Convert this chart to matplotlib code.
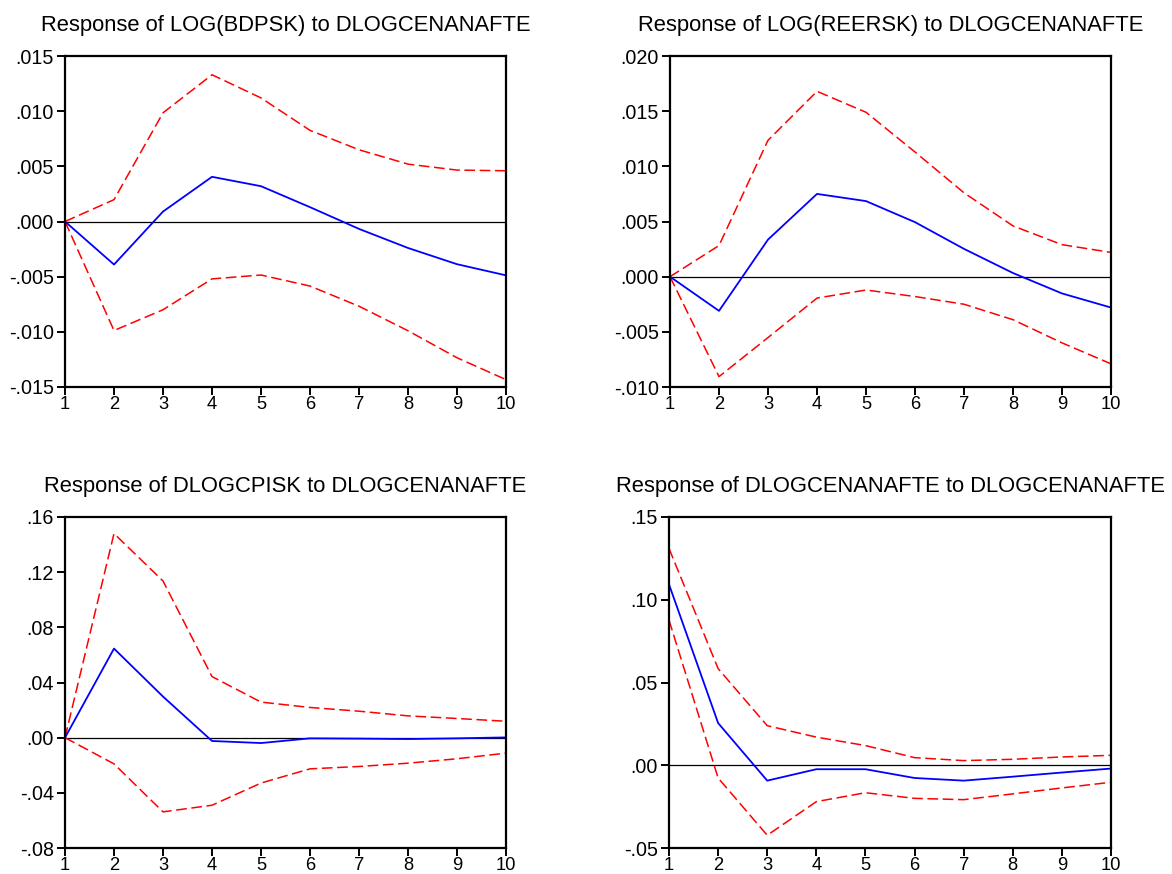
import matplotlib
matplotlib.use("Agg")
import matplotlib.pyplot as plt
from matplotlib.ticker import FixedLocator

plt.rcParams['font.family'] = ['Liberation Sans', 'DejaVu Sans']

periods = [1, 2, 3, 4, 5, 6, 7, 8, 9, 10]

titles = [
    "Response of LOG(BDPSK) to DLOGCENANAFTE",
    "Response of LOG(REERSK) to DLOGCENANAFTE",
    "Response of DLOGCPISK to DLOGCENANAFTE",
    "Response of DLOGCENANAFTE to DLOGCENANAFTE",
]

# impulse responses (blue) and +/- 2 S.E. bands (red)
bdpsk_resp = [0.0, -0.0039, 0.0009, 0.00405, 0.0032, 0.0013, -0.00067, -0.0024, -0.00387, -0.00488]
bdpsk_upper = [0.0, 0.00198, 0.00985, 0.0133, 0.0112, 0.00826, 0.0065, 0.0052, 0.00466, 0.0046]
bdpsk_lower = [0.0, -0.00988, -0.0080, -0.0052, -0.00485, -0.00585, -0.00768, -0.0099, -0.01235, -0.01433]

reersk_resp = [0.0, -0.0031, 0.00336, 0.0075, 0.00685, 0.00494, 0.00252, 0.00033, -0.00152, -0.0028]
reersk_upper = [0.0, 0.00282, 0.01236, 0.0168, 0.0149, 0.0113, 0.0076, 0.0046, 0.0029, 0.0022]
reersk_lower = [0.0, -0.00906, -0.00552, -0.00194, -0.00121, -0.0018, -0.0025, -0.0039, -0.0060, -0.0079]

cpisk_resp = [0.0, 0.0646, 0.0298, -0.0024, -0.0039, -0.0005, -0.0007, -0.001, -0.0005, 0.0002]
cpisk_upper = [0.0, 0.148, 0.1136, 0.0443, 0.0258, 0.0219, 0.0192, 0.0158, 0.0139, 0.0119]
cpisk_lower = [0.0, -0.019, -0.0538, -0.049, -0.0329, -0.0226, -0.0209, -0.0185, -0.0153, -0.0112]

nafte_resp = [0.1093, 0.0255, -0.0093, -0.0024, -0.0024, -0.0077, -0.0093, -0.0069, -0.0044, -0.002]
nafte_upper = [0.131, 0.0584, 0.0239, 0.017, 0.0119, 0.0046, 0.0028, 0.0036, 0.005, 0.006]
nafte_lower = [0.0877, -0.0077, -0.0423, -0.022, -0.0166, -0.020, -0.0208, -0.0173, -0.0137, -0.0103]

yticks_1 = [-0.015, -0.010, -0.005, 0.0, 0.005, 0.010, 0.015]
ylabels_1 = ["-.015", "-.010", "-.005", ".000", ".005", ".010", ".015"]
yticks_2 = [-0.010, -0.005, 0.0, 0.005, 0.010, 0.015, 0.020]
ylabels_2 = ["-.010", "-.005", ".000", ".005", ".010", ".015", ".020"]
yticks_3 = [-0.08, -0.04, 0.0, 0.04, 0.08, 0.12, 0.16]
ylabels_3 = ["-.08", "-.04", ".00", ".04", ".08", ".12", ".16"]
yticks_4 = [-0.05, 0.0, 0.05, 0.10, 0.15]
ylabels_4 = ["-.05", ".00", ".05", ".10", ".15"]

panels = [
    (bdpsk_resp, bdpsk_upper, bdpsk_lower, yticks_1, ylabels_1),
    (reersk_resp, reersk_upper, reersk_lower, yticks_2, ylabels_2),
    (cpisk_resp, cpisk_upper, cpisk_lower, yticks_3, ylabels_3),
    (nafte_resp, nafte_upper, nafte_lower, yticks_4, ylabels_4),
]

fig = plt.figure(figsize=(11.72, 8.74), dpi=100)
W, H = 1172.0, 874.0
# pixel boxes: left, top, right, bottom
boxes = [(65, 56, 506, 387), (670, 56, 1111, 387),
         (65, 517, 506, 848), (669, 517, 1111, 848)]

for i, (resp, up, lo, yt, yl) in enumerate(panels):
    l, t, r, b = boxes[i]
    ax = fig.add_axes([l / W, 1 - b / H, (r - l) / W, (b - t) / H])
    ax.axhline(0, color='black', lw=0.9)
    ax.plot(periods, up, color='red', lw=1.1, ls=(0, (7, 3)))
    ax.plot(periods, lo, color='red', lw=1.1, ls=(0, (7, 3)))
    ax.plot(periods, resp, color='blue', lw=1.3)
    ax.set_xlim(1, 10)
    ax.set_ylim(yt[0], yt[-1])
    ax.xaxis.set_major_locator(FixedLocator(periods))
    ax.set_xticklabels([str(p) for p in periods])
    ax.yaxis.set_major_locator(FixedLocator(yt))
    ax.set_yticklabels(yl)
    ax.tick_params(direction='out', length=5.5, width=1.4)
    ax.tick_params(axis='y', labelsize=14.2, pad=2.5)
    ax.tick_params(axis='x', labelsize=13.2, pad=0.8)
    for s in ax.spines.values():
        s.set_linewidth(1.6)
    ax.set_title(titles[i], fontsize=15.8, pad=18)

fig.savefig("out.png", dpi=100)
